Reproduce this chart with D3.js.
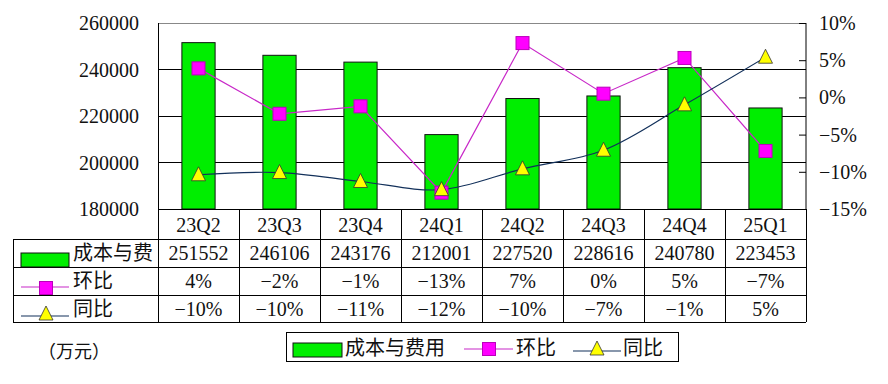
<!DOCTYPE html>
<html><head><meta charset="utf-8">
<script src="https://cdn.jsdelivr.net/npm/d3@7"></script>
<style>body{margin:0;background:#fff}svg{display:block}text{font-family:"Liberation Serif","Noto Sans CJK SC",serif;fill:#111}</style>
</head><body>
<script>
const categories = ["23Q2","23Q3","23Q4","24Q1","24Q2","24Q3","24Q4","25Q1"];
const cost = [251552,246106,243176,212001,227520,228616,240780,223453];
const qoq = [3.9,-2.2,-1.2,-12.8,7.3,0.5,5.3,-7.2];
const yoy = [-10.4,-10.1,-11.3,-12.4,-9.6,-7.1,-1.0,5.4];
const qoqLabels = ["4%","−2%","−1%","−13%","7%","0%","5%","−7%"];
const yoyLabels = ["−10%","−10%","−11%","−12%","−10%","−7%","−1%","5%"];
const leftTicks = [180000,200000,220000,240000,260000];
const rightTicks = [-15,-10,-5,0,5,10];
const seriesNames = ["成本与费用","环比","同比"];
const rowNames = ["成本与费","环比","同比"];
const unitLabel = "（万元）";

const W=888,H=384;
const L=158,R=806,T=23,B=209;
const svg=d3.select("body").append("svg").attr("width",W).attr("height",H);
const x=d3.scaleBand().domain(categories).range([L,R]).padding(0);
const bw=x.bandwidth(), barW=bw*0.41;
const cx=c=>x(c)+bw/2;
const yL=d3.scaleLinear().domain([180000,260000]).range([B,T]);
const yR=d3.scaleLinear().domain([-15,10]).range([B,T]);
const green="#00EE00", mag="#FF00FF", magLine="#C828C8", navy="#12305a", yellow="#FFFF00";

// grid
svg.selectAll("line.grid").data(leftTicks.filter(v=>v>180000)).join("line")
  .attr("x1",L).attr("x2",R).attr("y1",d=>yL(d)).attr("y2",d=>yL(d))
  .attr("stroke",d=>d===260000?"#888":"#000").attr("stroke-width",1).attr("shape-rendering","crispEdges");
svg.append("line").attr("x1",L).attr("x2",L).attr("y1",T).attr("y2",B).attr("stroke","#000").attr("shape-rendering","crispEdges");
// left labels
svg.selectAll("text.yl").data(leftTicks).join("text").attr("x",139).attr("y",d=>yL(d))
  .attr("text-anchor","end").attr("dominant-baseline","central").attr("font-size",20).text(d=>d);
// right axis
const rAxis=d3.axisRight(yR).tickValues(rightTicks).tickSize(-7).tickFormat(d=>(d<0?"−"+Math.abs(d):d)+"%").tickPadding(13);
const ra=svg.append("g").attr("transform",`translate(${R},0)`).call(rAxis);
ra.select(".domain").attr("stroke","#000").attr("d",`M0,${T}V${B}`);
ra.selectAll("line").attr("stroke","#000");
ra.selectAll("text").attr("font-size",20).attr("font-family",'"Liberation Serif",serif').attr("fill","#111");

// bars
svg.selectAll("rect.bar").data(cost).join("rect")
  .attr("x",(d,i)=>cx(categories[i])-barW/2).attr("width",barW)
  .attr("y",d=>yL(d)).attr("height",d=>B-yL(d))
  .attr("fill",green).attr("stroke","#111").attr("stroke-width",1);

// lines
const lineQ=d3.line().x((d,i)=>cx(categories[i])).y(d=>yR(d));
svg.append("path").attr("d",lineQ(qoq)).attr("fill","none").attr("stroke",magLine).attr("stroke-width",1.2);
const lineY=d3.line().x((d,i)=>cx(categories[i])).y(d=>yR(d)).curve(d3.curveCatmullRom.alpha(0.5));
svg.append("path").attr("d",lineY(yoy)).attr("fill","none").attr("stroke",navy).attr("stroke-width",1.2);

const sq=13;
function square(g,xx,yy){g.append("rect").attr("x",xx-sq/2).attr("y",yy-sq/2).attr("width",sq).attr("height",sq).attr("fill",mag).attr("stroke","#b0b","stroke-width",0.8);}
function tri(g,xx,yy){g.append("path").attr("d",`M${xx},${yy-8}L${xx+7},${yy+6}L${xx-7},${yy+6}Z`).attr("fill",yellow).attr("stroke","#333").attr("stroke-width",0.8);}
qoq.forEach((d,i)=>square(svg,cx(categories[i]),yR(d)));
yoy.forEach((d,i)=>tri(svg,cx(categories[i]),yR(d)));

// table
const rows=[209,239,267,295,322];
const tl=13;
const tg=svg.append("g").attr("shape-rendering","crispEdges");
tg.append("line").attr("x1",L).attr("x2",R).attr("y1",rows[0]).attr("y2",rows[0]).attr("stroke","#000");
for(let r=1;r<rows.length;r++) tg.append("line").attr("x1",tl).attr("x2",R).attr("y1",rows[r]).attr("y2",rows[r]).attr("stroke","#000");
tg.append("line").attr("x1",tl).attr("x2",tl).attr("y1",rows[1]).attr("y2",rows[4]).attr("stroke","#000");
categories.forEach(c=>tg.append("line").attr("x1",x(c)).attr("x2",x(c)).attr("y1",rows[0]).attr("y2",rows[4]).attr("stroke","#000"));
tg.append("line").attr("x1",R).attr("x2",R).attr("y1",rows[0]).attr("y2",rows[4]).attr("stroke","#000");

const cell=(xx,yy,t,anchor)=>svg.append("text").attr("x",xx).attr("y",yy).attr("text-anchor",anchor||"middle").attr("dominant-baseline","central").attr("font-size",20).text(t);
categories.forEach((c,i)=>{
  cell(cx(c),(rows[0]+rows[1])/2+1,c);
  cell(cx(c),(rows[1]+rows[2])/2,cost[i]);
  cell(cx(c),(rows[2]+rows[3])/2,qoqLabels[i]);
  cell(cx(c),(rows[3]+rows[4])/2,yoyLabels[i]);
});
// row legends
svg.append("rect").attr("x",21).attr("y",253).attr("width",48).attr("height",14).attr("fill",green).attr("stroke","#111");
cell(73,(rows[1]+rows[2])/2,rowNames[0],"start");
svg.append("line").attr("x1",21).attr("x2",69).attr("y1",287).attr("y2",287).attr("stroke",magLine).attr("stroke-width",1.2);
square(svg,46,288);
cell(73,(rows[2]+rows[3])/2,rowNames[1],"start");
svg.append("line").attr("x1",21).attr("x2",69).attr("y1",316).attr("y2",316).attr("stroke",navy).attr("stroke-width",1.2);
tri(svg,46,314);
cell(73,(rows[3]+rows[4])/2,rowNames[2],"start");

// unit
svg.append("text").attr("x",38).attr("y",352).attr("dominant-baseline","central").attr("font-size",18).text(unitLabel);

// legend
svg.append("rect").attr("x",286.5).attr("y",332.5).attr("width",392).attr("height",29).attr("fill","#fff").attr("stroke","#000");
svg.append("rect").attr("x",293).attr("y",343).attr("width",49).attr("height",14).attr("fill",green).attr("stroke","#111");
cell(345,348,seriesNames[0],"start");
svg.append("line").attr("x1",464).attr("x2",513).attr("y1",349).attr("y2",349).attr("stroke",magLine).attr("stroke-width",1.2);
square(svg,489,349);
cell(516,348,seriesNames[1],"start");
svg.append("line").attr("x1",573).attr("x2",621).attr("y1",351).attr("y2",351).attr("stroke",navy).attr("stroke-width",1.2);
tri(svg,597,349);
cell(623,348,seriesNames[2],"start");
</script>
</body></html>
